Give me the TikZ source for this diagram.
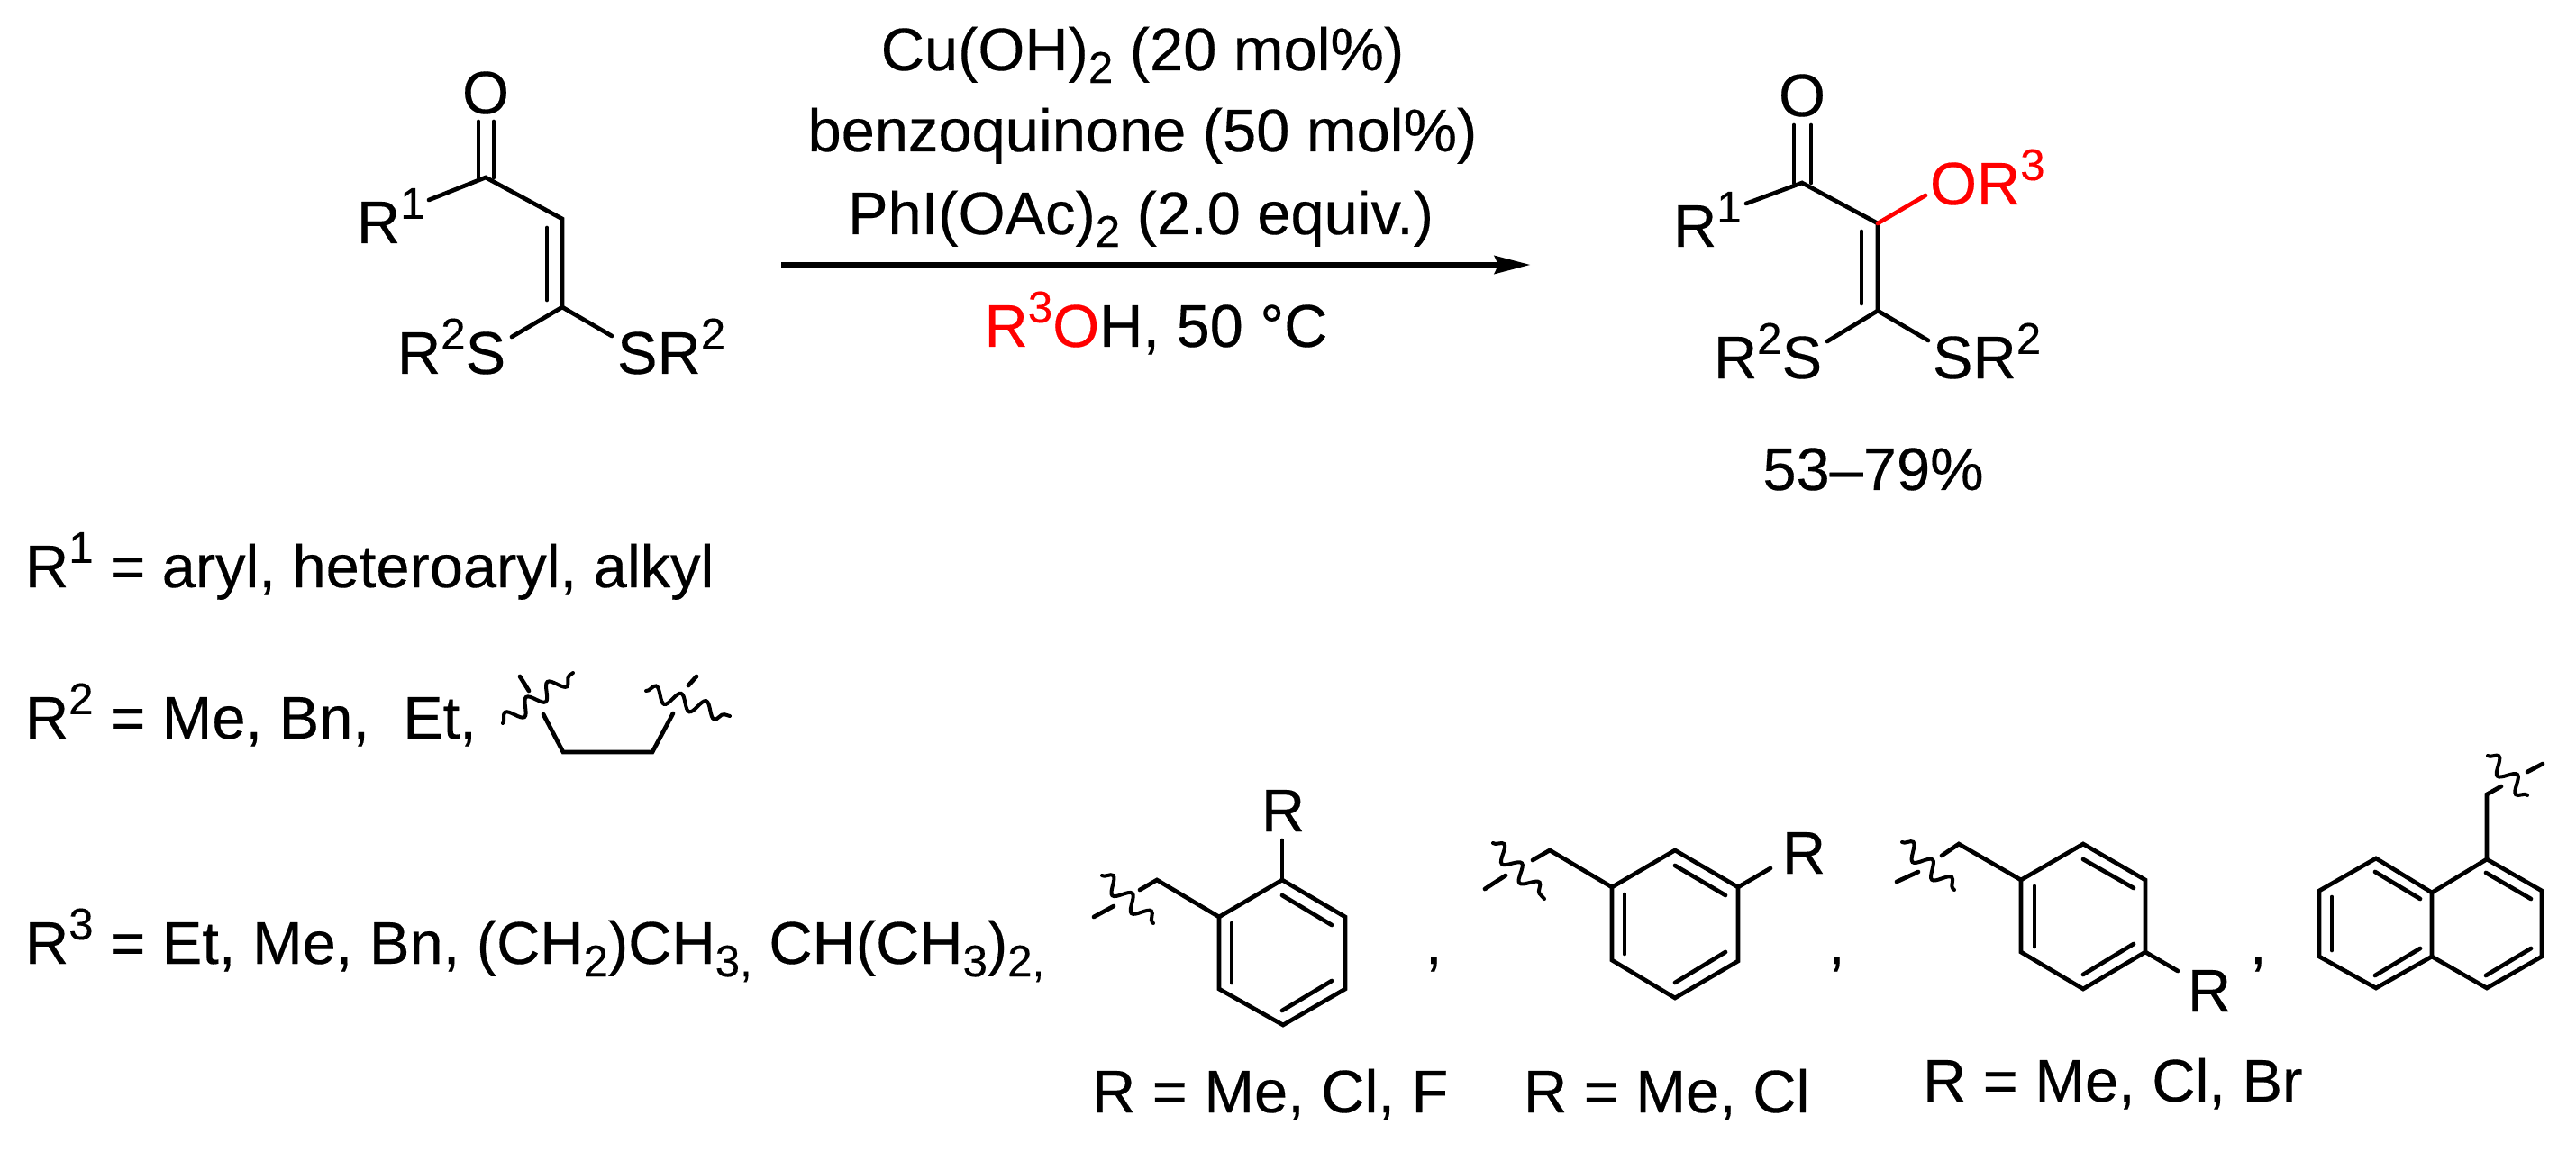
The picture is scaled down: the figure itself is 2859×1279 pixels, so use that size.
\documentclass[tikz,border=0pt]{standalone}
\usepackage{fontspec}
\setmainfont{Liberation Sans}[FakeBold=0.25]
\usetikzlibrary{arrows.meta,decorations.pathmorphing}
\definecolor{redc}{RGB}{255,0,0}
\newcommand{\upi}[1]{\raisebox{7.7pt}{\fontsize{14pt}{15pt}\selectfont #1}}
\newcommand{\dni}[1]{\raisebox{-4pt}{\fontsize{14pt}{15pt}\selectfont #1}}
\tikzset{
  bond/.style={line width=0.047cm,line join=miter,line cap=round},
  wavy/.style={line width=0.04cm,line cap=round,decorate,decoration={snake,segment length=0.29cm,amplitude=0.085cm}},
  lab/.style={inner sep=0pt,outer sep=0pt,anchor=base west,font=\fontsize{19pt}{20pt}\selectfont},
  clab/.style={lab,anchor=base},
}
\begin{document}
\begin{tikzpicture}[x=0.01cm,y=-0.01cm]
\useasboundingbox (0,0) rectangle (2859,1279);
%% reactant
\coordinate (A1) at (539,197);
\coordinate (A2) at (624,243);
\coordinate (A3) at (624,341);
\coordinate (Ar) at (476,222);
\coordinate (Asl) at (568,374);
\coordinate (Asr) at (679,373);
\draw[bond] (531,135) -- (531,197);
\draw[bond] (548,135) -- (548,197);
\draw[bond] (Ar) -- (A1) -- (A2) -- (A3);
\draw[bond] (607,253) -- (607,333);
\draw[bond] (Asl) -- (A3) -- (Asr);
\node[clab] (AO) at (539,126) {O};
\node[lab] (AR1) at (396,270) {R\upi{1}};
\node[lab] (ARS) at (441,415) {R\upi{2}S};
\node[lab] (ASR) at (685,415) {SR\upi{2}};
%% conditions
\node[clab] (c1) at (1268,78) {Cu(OH)\dni{2} (20 mol\%)};
\node[clab] (c2) at (1268,168) {benzoquinone (50 mol\%)};
\node[clab] (c3) at (1266,260) {PhI(OAc)\dni{2} (2.0 equiv.)};
\node[clab] (c4) at (1283,385) {\textcolor{redc}{R\upi{3}O}H, 50 °C};
\coordinate (arS) at (867,294);
\coordinate (arE) at (1698,294);
\draw[line width=0.05cm,-{Stealth[length=0.4cm,width=0.21cm,inset=0.05cm,line width=0pt]}] (arS) -- (arE);
%% product
\coordinate (P1) at (2000,203);
\coordinate (P2) at (2084,248);
\coordinate (P3) at (2084,345);
\coordinate (Pr) at (1938,226);
\coordinate (Po) at (2137,217);
\coordinate (Psl) at (2028,379);
\coordinate (Psr) at (2140,378);
\draw[bond] (1991,139) -- (1991,203);
\draw[bond] (2010,139) -- (2010,203);
\draw[bond] (Pr) -- (P1) -- (P2) -- (P3);
\draw[bond] (2066,257) -- (2066,337);
\draw[bond] (Psl) -- (P3) -- (Psr);
\draw[bond,redc] (P2) -- (Po);
\node[clab] (PO) at (2000,129) {O};
\node[lab] (PR1) at (1857,274) {R\upi{1}};
\node[lab,redc] (POR) at (2142,227) {OR\upi{3}};
\node[lab] (PRS) at (1902,420) {R\upi{2}S};
\node[lab] (PSR) at (2145,420) {SR\upi{2}};
\node[clab] (yld) at (2079,544) {53–79\%};
%% definitions
\node[lab] (d1) at (28,652) {R\upi{1} = aryl, heteroaryl, alkyl};
\node[lab] (d2) at (28,820) {R\upi{2} = Me, Bn,\ \ Et,};
\node[lab] (d3) at (28,1070) {R\upi{3} = Et, Me, Bn, (CH\dni{2})CH\dni{3,} CH(CH\dni{3})\dni{2,}};
%% ethylene
\coordinate (E1) at (603,793);
\coordinate (E2) at (625,835);
\coordinate (E3) at (724,835);
\coordinate (E4) at (747,792);
\draw[bond] (E1) -- (E2) -- (E3) -- (E4);
\draw[bond] (577,751) -- (587,767);
\draw[bond] (773,751) -- (764,761);
\draw[wavy] (558,803) -- (636,747);
\draw[wavy] (717,767) -- (810,795);
%% ortho
\coordinate (oa) at (1423,977);
\coordinate (ob) at (1493,1018);
\coordinate (oc) at (1493,1098);
\coordinate (od) at (1424,1138);
\coordinate (oe) at (1353,1098);
\coordinate (of) at (1353,1018);
\coordinate (og) at (1284,977);
\coordinate (oh) at (1265,988);
\coordinate (oi) at (1423,933);
\draw[bond] (oa) -- (ob) -- (oc) -- (od) -- (oe) -- (of) -- cycle;
\draw[bond] (oh) -- (og) -- (of);
\draw[bond] (oa) -- (oi);
\draw[bond] (1367,1025) -- (1367,1091);
\draw[bond] (1423,994) -- (1478,1027);
\draw[bond] (1478,1089) -- (1423,1122);
\draw[bond] (1236,1006) -- (1214,1018);
\draw[wavy] (1223,972) -- (1280,1025);
\node[clab] (oR) at (1424,923) {R};
\node[lab] (com1) at (1582,1070) {,};
\node[lab] (t1) at (1212,1235) {R = Me, Cl, F};
%% meta
\coordinate (ma) at (1859,944);
\coordinate (mb) at (1929,985);
\coordinate (mc) at (1929,1067);
\coordinate (md) at (1859,1108);
\coordinate (me) at (1789,1066);
\coordinate (mf) at (1789,985);
\coordinate (mg) at (1720,944);
\coordinate (mh) at (1701,955);
\coordinate (mi) at (1965,964);
\draw[bond] (ma) -- (mb) -- (mc) -- (md) -- (me) -- (mf) -- cycle;
\draw[bond] (mh) -- (mg) -- (mf);
\draw[bond] (mb) -- (mi);
\draw[bond] (1803,993) -- (1803,1059);
\draw[bond] (1859,961) -- (1915,994);
\draw[bond] (1915,1057) -- (1859,1091);
\draw[bond] (1671,972) -- (1648,987);
\draw[wavy] (1657,936) -- (1714,998);
\node[clab] (mR) at (2002,970) {R};
\node[lab] (com2) at (2029,1070) {,};
\node[lab] (t2) at (1691,1235) {R = Me, Cl};
%% para
\coordinate (pa) at (2312,937);
\coordinate (pb) at (2381,977);
\coordinate (pc) at (2381,1057);
\coordinate (pd) at (2312,1098);
\coordinate (pe) at (2243,1057);
\coordinate (pf) at (2243,977);
\coordinate (pg) at (2174,937);
\coordinate (ph) at (2155,950);
\coordinate (pi) at (2417,1078);
\draw[bond] (pa) -- (pb) -- (pc) -- (pd) -- (pe) -- (pf) -- cycle;
\draw[bond] (ph) -- (pg) -- (pf);
\draw[bond] (pc) -- (pi);
\draw[bond] (2258,984) -- (2258,1051);
\draw[bond] (2312,954) -- (2368,986);
\draw[bond] (2368,1048) -- (2312,1082);
\draw[bond] (2129,968) -- (2105,979);
\draw[wavy] (2111,935) -- (2169,988);
\node[clab] (pR) at (2452,1123) {R};
\node[lab] (com3) at (2497,1070) {,};
\node[lab] (t3) at (2134,1223) {R = Me, Cl, Br};
%% naphthalene
\coordinate (n1) at (2760,954);
\coordinate (n2) at (2821,989);
\coordinate (n3) at (2821,1062);
\coordinate (n4) at (2760,1097);
\coordinate (n5) at (2699,1062);
\coordinate (n6) at (2699,991);
\coordinate (n7) at (2637,953);
\coordinate (n8) at (2574,989);
\coordinate (n9) at (2574,1062);
\coordinate (n10) at (2637,1097);
\coordinate (nc) at (2760,882);
\coordinate (ns) at (2776,873);
\draw[bond] (n1) -- (n2) -- (n3) -- (n4) -- (n5) -- (n6) -- cycle;
\draw[bond] (n6) -- (n7) -- (n8) -- (n9) -- (n10) -- (n5);
\draw[bond] (n1) -- (nc) -- (ns);
\draw[bond] (2636,968) -- (2686,998);
\draw[bond] (2588,996) -- (2588,1055);
\draw[bond] (2686,1053) -- (2636,1083);
\draw[bond] (2759,969) -- (2809,998);
\draw[bond] (2809,1053) -- (2759,1083);
\draw[bond] (2805,857) -- (2822,848);
\draw[wavy] (2761,839) -- (2805,883);
\end{tikzpicture}
\end{document}
